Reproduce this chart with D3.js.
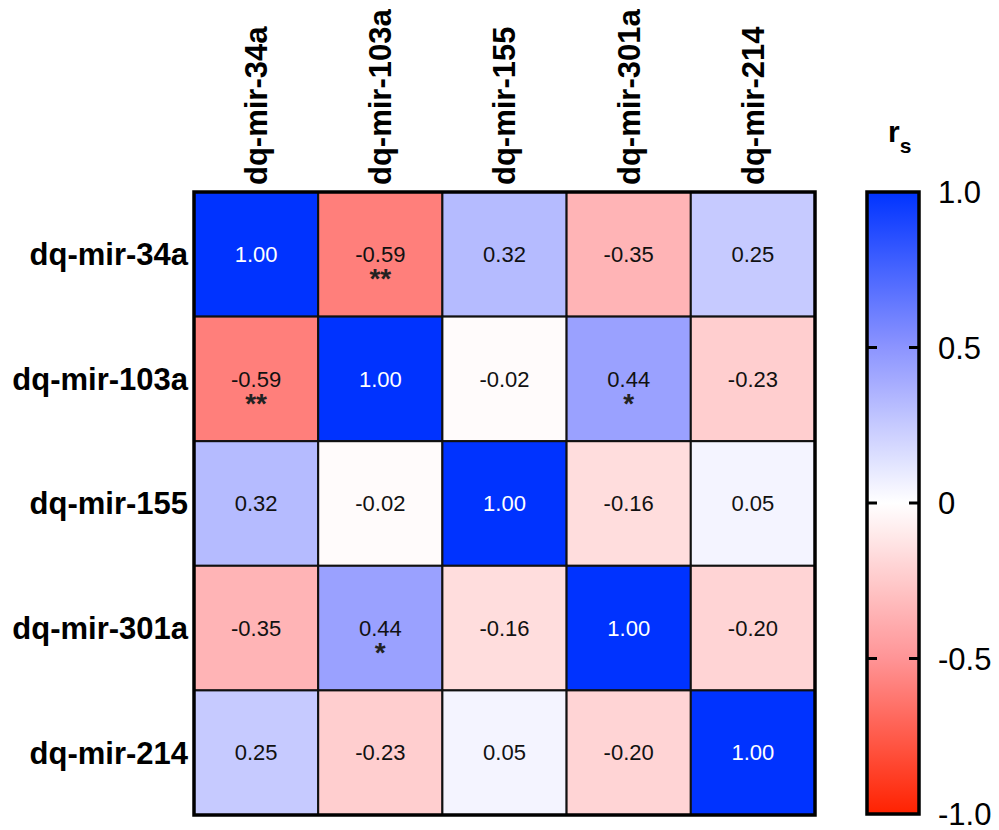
<!DOCTYPE html>
<html>
<head>
<meta charset="utf-8">
<script src="https://cdn.jsdelivr.net/npm/d3@7"></script>
<style>
  body { margin: 0; background: #fff; }
  svg { font-family: "Liberation Sans", Arial, sans-serif; }
</style>
</head>
<body>
<div id="chart"></div>
<script>
let labels = ["dq-mir-34a", "dq-mir-103a", "dq-mir-155", "dq-mir-301a", "dq-mir-214"];
let values = [
    [1.00, -0.59, 0.32, -0.35, 0.25],
    [-0.59, 1.00, -0.02, 0.44, -0.23],
    [0.32, -0.02, 1.00, -0.16, 0.05],
    [-0.35, 0.44, -0.16, 1.00, -0.20],
    [0.25, -0.23, 0.05, -0.20, 1.00]
];
let stars = [
    ["", "**", "", "", ""],
    ["**", "", "", "*", ""],
    ["", "", "", "", ""],
    ["", "*", "", "", ""],
    ["", "", "", "", ""]
];
let legendTicks = [1, 0.5, 0, -0.5, -1];
let legendTickLabels = ["1.0", "0.5", "0", "-0.5", "-1.0"];

let width = 999;
let height = 830;
let grid = { left: 194, top: 192, right: 815, bottom: 815 };
let bar = { left: 867, right: 919, top: 192, bottom: 814 };

let cells = [];
values.forEach((row, i) => row.forEach((v, j) => {
    cells.push({ row: labels[i], col: labels[j], value: v, star: stars[i][j] });
}));

let x = d3.scaleBand().domain(labels).range([grid.left, grid.right]);
let y = d3.scaleBand().domain(labels).range([grid.top, grid.bottom]);
let color = d3.scaleLinear()
    .domain([-1, -0.5, 0, 0.5, 1])
    .range(["#ff2200", "rgb(255,148,150)", "#ffffff", "rgb(140,148,255)", "#0033ff"]);

const svg = d3.select("#chart").append("svg")
    .attr("width", width)
    .attr("height", height);

// cells
svg.append("g")
    .selectAll("rect")
    .data(cells)
    .join("rect")
    .attr("x", d => x(d.col))
    .attr("y", d => y(d.row))
    .attr("width", x.bandwidth())
    .attr("height", y.bandwidth())
    .attr("fill", d => color(d.value))
    .attr("stroke", "#111")
    .attr("stroke-width", 2);

svg.append("rect")
    .attr("x", grid.left)
    .attr("y", grid.top)
    .attr("width", grid.right - grid.left)
    .attr("height", grid.bottom - grid.top)
    .attr("fill", "none")
    .attr("stroke", "#000")
    .attr("stroke-width", 3.5);

// values
let txt = svg.append("g").selectAll("g").data(cells).join("g")
    .attr("transform", d => `translate(${x(d.col) + x.bandwidth() / 2},${y(d.row) + y.bandwidth() / 2})`);
txt.append("text")
    .attr("text-anchor", "middle")
    .attr("dy", "0.35em")
    .attr("font-size", 22)
    .attr("fill", d => d.value >= 0.9 ? "#fff" : "#111")
    .text(d => d.value.toFixed(2));
txt.filter(d => d.star).append("text")
    .attr("text-anchor", "middle")
    .attr("y", 34)
    .attr("font-size", 28)
    .attr("font-weight", "bold")
    .attr("fill", "#222")
    .text(d => d.star);

// row labels
svg.append("g")
    .selectAll("text")
    .data(labels)
    .join("text")
    .attr("x", grid.left - 6)
    .attr("y", d => y(d) + y.bandwidth() / 2)
    .attr("dy", "0.35em")
    .attr("text-anchor", "end")
    .attr("font-size", 31)
    .attr("font-weight", "bold")
    .text(d => d);

// column labels
svg.append("g")
    .selectAll("text")
    .data(labels)
    .join("text")
    .attr("transform", d => `translate(${x(d) + x.bandwidth() / 2},${grid.top - 7}) rotate(-90)`)
    .attr("dy", "0.35em")
    .attr("text-anchor", "start")
    .attr("font-size", 31)
    .attr("font-weight", "bold")
    .text(d => d);

// color bar
let ly = d3.scaleLinear().domain([-1, 1]).range([bar.bottom, bar.top]);
let defs = svg.append("defs");
let grad = defs.append("linearGradient")
    .attr("id", "rs-grad")
    .attr("x1", 0).attr("y1", 1).attr("x2", 0).attr("y2", 0);
grad.selectAll("stop")
    .data(d3.range(-1, 1.001, 0.05))
    .join("stop")
    .attr("offset", d => (d + 1) / 2)
    .attr("stop-color", d => color(d));

svg.append("rect")
    .attr("x", bar.left)
    .attr("y", bar.top)
    .attr("width", bar.right - bar.left)
    .attr("height", bar.bottom - bar.top)
    .attr("fill", "url(#rs-grad)")
    .attr("stroke", "#000")
    .attr("stroke-width", 3.5);

let tickG = svg.append("g").selectAll("g")
    .data(legendTicks)
    .join("g")
    .attr("transform", d => `translate(0,${ly(d)})`);
tickG.filter(d => Math.abs(d) < 1).append("line")
    .attr("x1", bar.left).attr("x2", bar.left + 10)
    .attr("stroke", "#000").attr("stroke-width", 3);
tickG.filter(d => Math.abs(d) < 1).append("line")
    .attr("x1", bar.right - 10).attr("x2", bar.right)
    .attr("stroke", "#000").attr("stroke-width", 3);
tickG.append("text")
    .attr("x", 938)
    .attr("dy", "0.36em")
    .attr("font-size", 31)
    .text((d, i) => legendTickLabels[i]);

// legend title r_s
let title = svg.append("text")
    .attr("x", 888)
    .attr("y", 142)
    .attr("font-weight", "bold")
    .attr("font-size", 30);
title.append("tspan").text("r");
title.append("tspan").attr("font-size", 21).attr("dy", 11).text("s");
</script>
</body>
</html>
